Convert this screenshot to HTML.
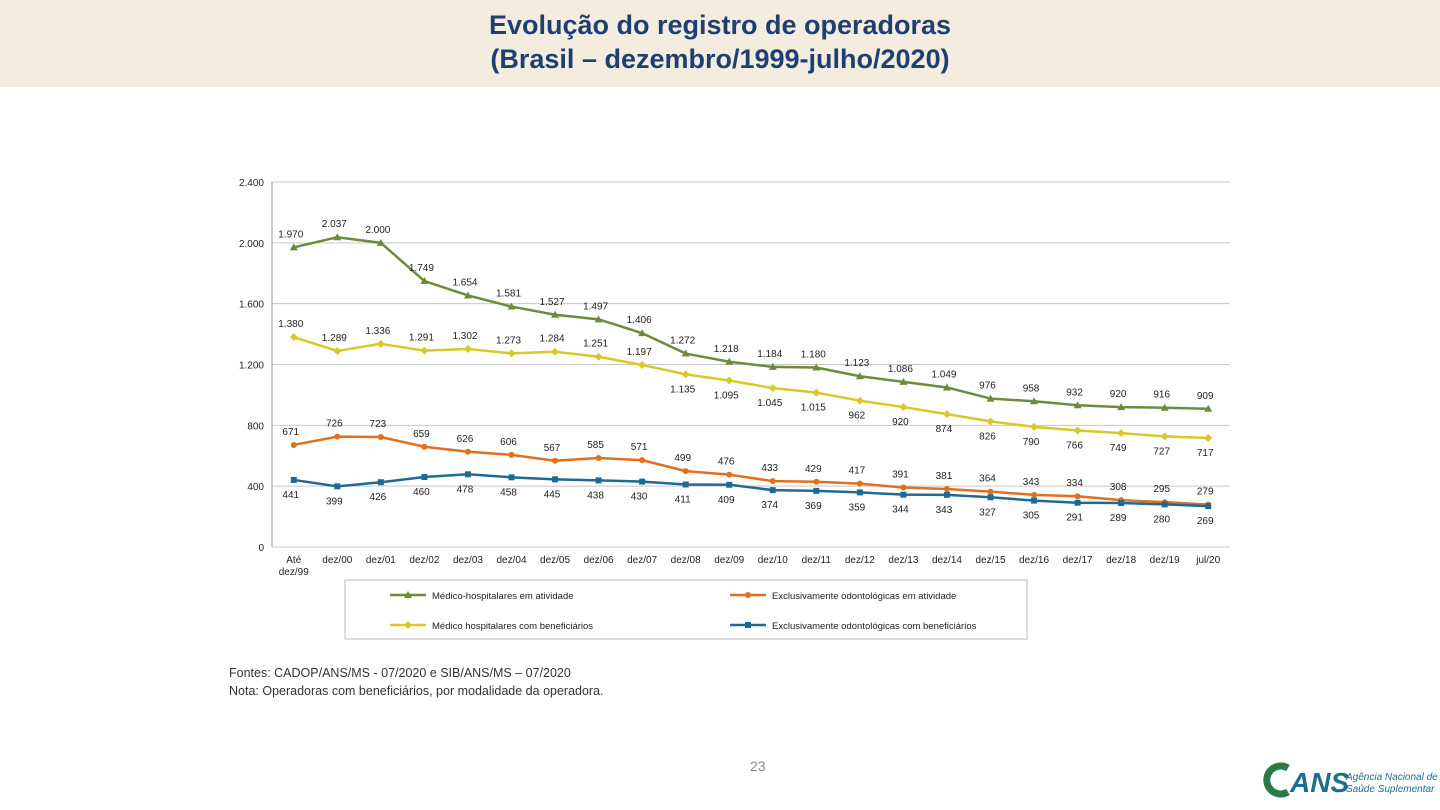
<!DOCTYPE html>
<html><head><meta charset="utf-8">
<style>
body{margin:0;width:1440px;height:810px;background:#fff;overflow:hidden;font-family:"Liberation Sans",sans-serif;position:relative}
#hdr{position:absolute;left:0;top:0;width:1440px;height:87px;background:#f3ede0}
#title{position:absolute;left:0;top:8px;width:1440px;text-align:center;font-size:27px;font-weight:bold;color:#1f3f73;line-height:34px}
.note{position:absolute;left:229px;font-size:12.5px;color:#333}
</style></head><body>
<div id="hdr"></div>
<div id="title">Evolução do registro de operadoras<br>(Brasil – dezembro/1999-julho/2020)</div>
<svg id="chart" width="1440" height="810" style="position:absolute;left:0;top:0"></svg>
<div class="note" style="top:666px">Fontes: CADOP/ANS/MS - 07/2020 e SIB/ANS/MS – 07/2020</div>
<div class="note" style="top:684px">Nota: Operadoras com beneficiários, por modalidade da operadora.</div>
<div style="position:absolute;left:750px;top:758px;font-size:14px;color:#888">23</div>
<div style="position:absolute;left:1258px;top:760px;width:180px;height:40px">
<svg width="180" height="40"><path d="M30 8 A14 14 0 1 0 30 32" fill="none" stroke="#2a7a4a" stroke-width="7"/><text x="32" y="32" font-size="28" font-weight="bold" font-style="italic" fill="#1c6f8a" font-family="Liberation Sans">ANS</text><text x="88" y="20" font-size="10" font-style="italic" fill="#1c6f8a" font-family="Liberation Sans">Agência Nacional de</text><text x="88" y="32" font-size="10" font-style="italic" fill="#1c6f8a" font-family="Liberation Sans">Saúde Suplementar</text></svg></div>
<script>
const categories=["Até dez/99","dez/00","dez/01","dez/02","dez/03","dez/04","dez/05","dez/06","dez/07","dez/08","dez/09","dez/10","dez/11","dez/12","dez/13","dez/14","dez/15","dez/16","dez/17","dez/18","dez/19","jul/20"];
const medAtiv=[1970,2037,2000,1749,1654,1581,1527,1497,1406,1272,1218,1184,1180,1123,1086,1049,976,958,932,920,916,909];
const medBenef=[1380,1289,1336,1291,1302,1273,1284,1251,1197,1135,1095,1045,1015,962,920,874,826,790,766,749,727,717];
const odoAtiv=[671,726,723,659,626,606,567,585,571,499,476,433,429,417,391,381,364,343,334,308,295,279];
const odoBenef=[441,399,426,460,478,458,445,438,430,411,409,374,369,359,344,343,327,305,291,289,280,269];
const yTicks=[0,400,800,1200,1600,2000,2400];
const seriesNames=["Médico-hospitalares em atividade","Médico hospitalares com beneficiários","Exclusivamente odontológicas em atividade","Exclusivamente odontológicas com beneficiários"];
const svg=document.getElementById('chart');const NS="http://www.w3.org/2000/svg";
const L=272,R=1230,T=182,B=547,ymax=2400;
const x=i=>L+(R-L)/categories.length*(i+0.5);
const y=v=>B-(B-T)*v/ymax;
const fmt=v=>v>=1000?Math.floor(v/1000)+"."+String(v%1000).padStart(3,"0"):String(v);
function mk(t,a,p){const e=document.createElementNS(NS,t);for(const k in a)e.setAttribute(k,a[k]);(p||svg).appendChild(e);return e;}
yTicks.forEach(v=>{const g=mk('line',{x1:L,x2:R,y1:y(v),y2:y(v),stroke:'#c8c8c8','stroke-width':1});


const t=mk('text',{x:L-8,y:y(v)+4,'text-anchor':'end','font-size':10,fill:'#222'});t.textContent=fmt(v);

});
mk('line',{x1:L,x2:L,y1:T,y2:B,stroke:'#999'});
categories.forEach((c,i)=>{const t=mk('text',{x:x(i),y:B+16,'text-anchor':'middle','font-size':10,fill:'#222'});


const parts=c==="Até dez/99"?["Até","dez/99"]:[c];parts.forEach((p,k)=>{const s=mk('tspan',{x:x(i),dy:k?12:0},t);s.textContent=p;});});
const series=[
 {d:medAtiv,c:'#6e8b3d',m:'tri',side:()=>-1,name:'series-medico-atividade'},
 {d:medBenef,c:'#d8c82a',m:'dia',side:i=>i>=9?1:-1,name:'series-medico-beneficiarios'},
 {d:odoAtiv,c:'#e07020',m:'dot',side:()=>-1,name:'series-odonto-atividade'},
 {d:odoBenef,c:'#1f6a94',m:'sq',side:()=>1,name:'series-odonto-beneficiarios'}];
function marker(type,cx,cy,c,p){let e;
 if(type==='tri')e=mk('polygon',{points:`${cx},${cy-4} ${cx-4},${cy+3} ${cx+4},${cy+3}`,fill:c},p);
 else if(type==='dia')e=mk('polygon',{points:`${cx},${cy-4} ${cx+4},${cy} ${cx},${cy+4} ${cx-4},${cy}`,fill:c},p);
 else if(type==='dot')e=mk('circle',{cx,cy,r:3,fill:c},p);
 else e=mk('rect',{x:cx-3,y:cy-3,width:6,height:6,fill:c},p);return e;}
series.forEach(s=>{const g=mk('g',{});


mk('polyline',{points:s.d.map((v,i)=>x(i)+','+y(v)).join(' '),fill:'none',stroke:s.c,'stroke-width':2.5},g);
s.d.forEach((v,i)=>{const m=marker(s.m,x(i),y(v),s.c,g);


const sd=s.side(i);const t=mk('text',{x:x(i)-3,y:y(v)+(sd<0?-10:18),'text-anchor':'middle','font-size':10,fill:'#222'},g);t.textContent=fmt(v);

});});
const lg=mk('g',{});


mk('rect',{x:345,y:580,width:682,height:59,fill:'#fff',stroke:'#bbb'},lg);
const lpos=[[390,595],[730,595],[390,625],[730,625]];const order=[0,2,1,3];
lpos.forEach((p,k)=>{const s=series[order[k]];const e=mk('g',{},lg);


mk('line',{x1:p[0],x2:p[0]+36,y1:p[1],y2:p[1],stroke:s.c,'stroke-width':2.5},e);marker(s.m,p[0]+18,p[1],s.c,e);
const t=mk('text',{x:p[0]+42,y:p[1]+4,'font-size':9.5,fill:'#222'},e);t.textContent=seriesNames[order[k]];});
</script>
</body></html>
